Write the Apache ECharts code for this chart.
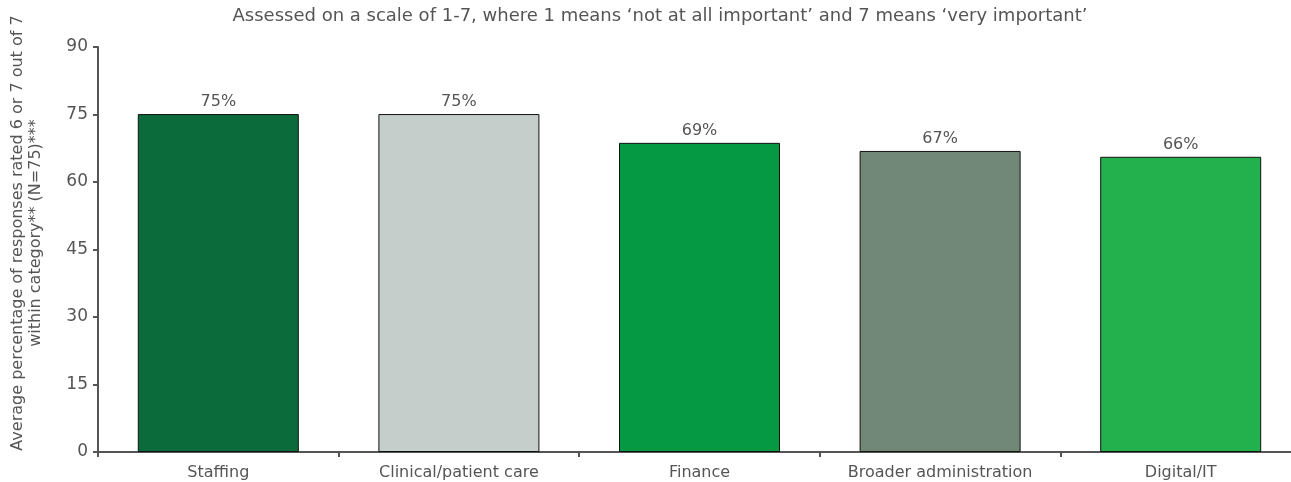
<!DOCTYPE html>
<html><head><meta charset="utf-8">
<script src="https://cdn.jsdelivr.net/npm/echarts@6/dist/echarts.min.js"></script>
<style>html,body{margin:0;padding:0;background:#fff}#c{width:1291px;height:482px}</style>
</head><body><div id="c"></div>
<script>
const categories = ['Staffing','Clinical/patient care','Finance','Broader administration','Digital/IT'];
const values = [75.1, 75.1, 68.7, 66.9, 65.6];
const colors = ['#0b6b3a','#c5cecb','#069944','#718878','#23b14d'];
const yTicks = [0,15,30,45,60,75,90];
const title = 'Assessed on a scale of 1-7, where 1 means \u2018not at all important\u2019 and 7 means \u2018very important\u2019';
const yName = 'Average percentage of responses rated 6 or 7 out of 7\nwithin category** (N=75)***';
const chart = echarts.init(document.getElementById('c'));
const font = '"DejaVu Sans", sans-serif';
chart.setOption({
  animation:false,
  title:{text:title, left:655, top:2, textAlign:'center',
    textStyle:{fontFamily:font,fontSize:18,fontWeight:'normal',color:'#555'}},
  graphic:[{type:'text',x:27,y:233,rotation:Math.PI/2,
    style:{text:yName,fontFamily:font,fontSize:16,fill:'#555',lineHeight:18,
      textAlign:'center',textVerticalAlign:'middle'}}],
  grid:{left:98,right:-10,top:47,bottom:30,outerBoundsMode:'none',containLabel:false},
  xAxis:{type:'category',data:categories,
    axisLine:{lineStyle:{color:'#555',width:2}},
    axisTick:{show:true,interval:0,length:5,lineStyle:{color:'#555',width:2}},
    axisLabel:{interval:0,hideOverlap:false,fontFamily:font,fontSize:16,color:'#555',margin:13}},
  yAxis:{type:'value',min:0,max:90,interval:15,
    axisLine:{show:true,lineStyle:{color:'#555',width:2}},
    axisTick:{show:true,length:5,lineStyle:{color:'#555',width:2}},
    splitLine:{show:false},
    axisLabel:{fontFamily:font,fontSize:17,color:'#555',margin:10,
      formatter:v=>yTicks.includes(v)?String(v):''}},
  series:[{type:'bar',barWidth:161,
    data:values.map((v,i)=>({value:v,itemStyle:{color:colors[i]}})),
    itemStyle:{borderColor:'#111',borderWidth:1},
    label:{show:true,position:'top',distance:4,fontFamily:font,fontSize:16,color:'#555',
      formatter:p=>Math.round(p.value)+'%'}}]
});
</script></body></html>
